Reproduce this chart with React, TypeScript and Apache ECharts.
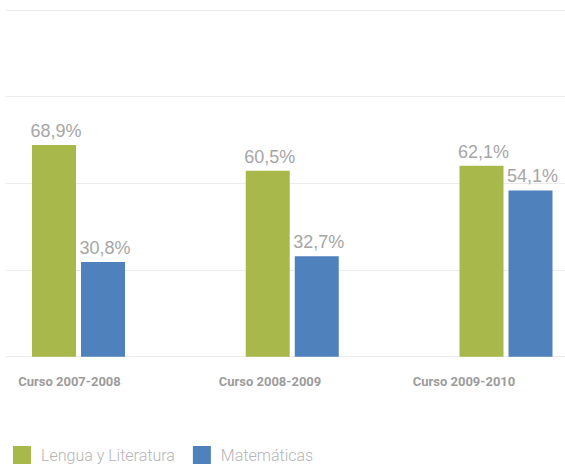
import React, { useEffect, useRef } from "react";
import * as echarts from "echarts";

const categories = ["Curso 2007-2008", "Curso 2008-2009", "Curso 2009-2010"];
const seriesNames = ["Lengua y Literatura", "Matemáticas"];
const lengua = [68.9, 60.5, 62.1];
const matematicas = [30.8, 32.7, 54.1];
const labelCenters = [69.5, 270, 464];

const fmt = (v: number) => v.toFixed(1).replace(".", ",") + "%";

export default function App() {
  const ref = useRef<HTMLDivElement>(null);
  useEffect(() => {
    if (!ref.current) return;
    const chart = echarts.init(ref.current, null, { renderer: "svg" });
    const labelStyle = {
      show: true,
      position: "top" as const,
      distance: 5,
      offset: [2, 0],
      color: "#a6a6a6",
      fontSize: 18,
      fontFamily: "Liberation Sans, Arial, sans-serif",
      formatter: (p: any) => fmt(p.value),
    };
    chart.setOption({
      animation: false,
      backgroundColor: "#ffffff",
      legend: {
        left: 13,
        top: 446,
        padding: 0,
        icon: "rect",
        itemWidth: 18,
        itemHeight: 18,
        itemGap: 18,
        textStyle: {
          fontSize: 16,
          fontWeight: 300,
          color: "#b5b5b5",
          fontFamily: "Roboto, Liberation Sans, Arial, sans-serif",
          padding: [0, 0, 0, 5],
        },
        data: seriesNames,
      },
      grid: [
        { left: 6, right: 0, top: 10, bottom: 112.3 },
        { left: 78.5, right: 59, top: 10, bottom: 112.3 },
      ],
      xAxis: [
        {
          gridIndex: 0,
          type: "value",
          min: 6,
          max: 565,
          splitLine: { show: false },
          axisLine: { show: false },
          axisTick: { show: false },
          axisLabel: {
            show: true,
            customValues: labelCenters,
            margin: 18,
            color: "#9c9c9c",
            fontSize: 13,
            fontWeight: "bold",
            fontFamily: "Roboto, Liberation Sans, Arial, sans-serif",
            formatter: (v: number) => {
              let best = 0;
              labelCenters.forEach((c, i) => {
                if (Math.abs(c - v) < Math.abs(labelCenters[best] - v)) best = i;
              });
              return categories[best];
            },
          },
        },
        {
          gridIndex: 1,
          type: "category",
          data: categories,
          boundaryGap: false,
          axisLine: { show: false },
          axisTick: { show: false },
          axisLabel: { show: false },
          splitLine: { show: false },
        },
      ],
      yAxis: [
        {
          gridIndex: 0,
          type: "value",
          min: 0,
          max: 112.8,
          interval: 28.2,
          axisLine: { show: false },
          axisTick: { show: false },
          axisLabel: { show: false },
          splitLine: { show: true, lineStyle: { color: "#ebebeb", width: 1 } },
        },
        {
          gridIndex: 1,
          type: "value",
          min: 0,
          max: 112.8,
          interval: 28.2,
          axisLine: { show: false },
          axisTick: { show: false },
          axisLabel: { show: false },
          splitLine: { show: false },
        },
      ],
      series: [
        {
          name: seriesNames[0],
          type: "bar",
          xAxisIndex: 1,
          yAxisIndex: 1,
          data: lengua,
          barWidth: 44,
          barGap: "11.4%",
          itemStyle: { color: "#a8b84b" },
          label: labelStyle,
        },
        {
          name: seriesNames[1],
          type: "bar",
          xAxisIndex: 1,
          yAxisIndex: 1,
          data: matematicas,
          barWidth: 44,
          barGap: "11.4%",
          itemStyle: { color: "#4f81bd" },
          label: labelStyle,
        },
      ],
    });
    return () => chart.dispose();
  }, []);
  return (
    <div
      ref={ref}
      style={{ position: "absolute", left: 0, top: 0, width: 565, height: 469 }}
    />
  );
}
